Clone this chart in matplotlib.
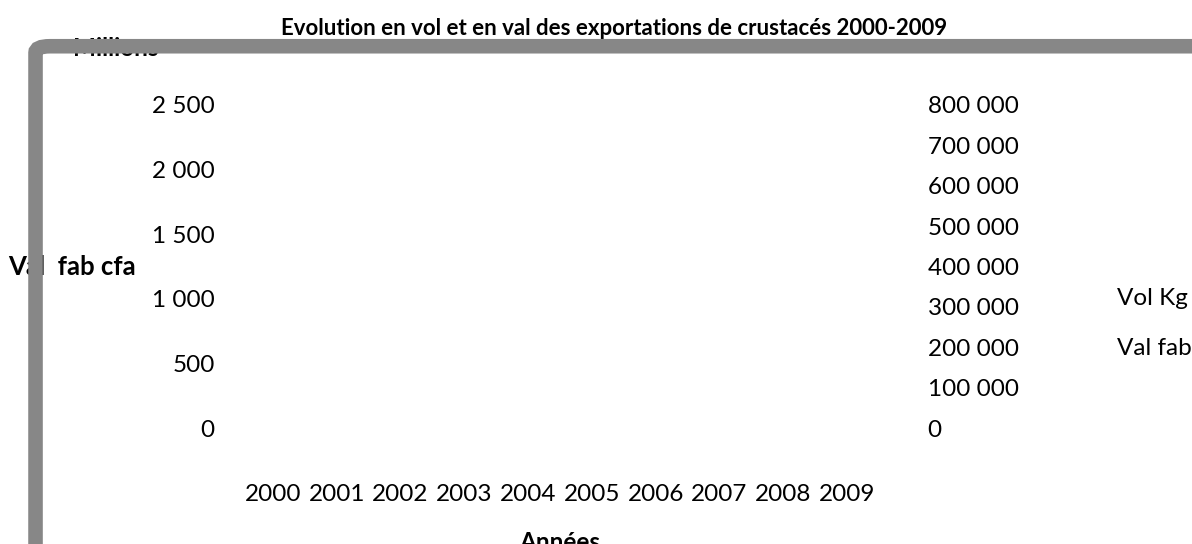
import numpy as np
import matplotlib
matplotlib.use("Agg")
import matplotlib.pyplot as plt
from matplotlib.patches import FancyBboxPatch
from matplotlib.ticker import FuncFormatter

plt.rcParams['font.family'] = ['Lato', 'DejaVu Sans']

years = ['2000', '2001', '2002', '2003', '2004', '2005', '2006', '2007', '2008', '2009']
# no series values are visible in the source chart
vol_kg = [np.nan, np.nan, np.nan, np.nan, np.nan, np.nan, np.nan, np.nan, np.nan, np.nan]
val_fab = [np.nan, np.nan, np.nan, np.nan, np.nan, np.nan, np.nan, np.nan, np.nan, np.nan]
left_ticks = [0, 500, 1000, 1500, 2000, 2500]
right_ticks = [0, 100000, 200000, 300000, 400000, 500000, 600000, 700000, 800000]


def spaced(v, pos=None):
    return '{:,.0f}'.format(v).replace(',', ' ')


fig = plt.figure(figsize=(11.92, 5.44), dpi=100)
ax = fig.add_axes([0.2022, 0.2132, 0.5352, 0.5938])
ax2 = ax.twinx()

x = np.arange(len(years))
ax.plot(x, val_fab, label='Val fab')
ax2.plot(x, vol_kg, label='Vol Kg')

ax.set_xlim(-0.5, len(years) - 0.5)
ax.set_ylim(0, 2500)
ax2.set_ylim(0, 800000)
ax.set_xticks(x)
ax.set_xticklabels(years)
ax.set_yticks(left_ticks)
ax2.set_yticks(right_ticks)
ax.yaxis.set_major_formatter(FuncFormatter(spaced))
ax2.yaxis.set_major_formatter(FuncFormatter(spaced))

for a in (ax, ax2):
    for s in a.spines.values():
        s.set_visible(False)
    a.patch.set_visible(False)
ax.tick_params(axis='y', length=0, pad=19, labelsize=17.5)
ax.tick_params(axis='x', length=0, pad=40, labelsize=17.5)
ax2.tick_params(axis='y', length=0, pad=35, labelsize=17.5)

ax.set_xlabel('Années', fontsize=17.5, fontweight='bold', labelpad=19)
ax.set_ylabel('Val  fab cfa', fontsize=18.5, fontweight='bold', rotation=0,
              ha='left', va='center')
ax.yaxis.set_label_coords(-0.365, 0.5)

fig.text(0.515, 0.948, 'Evolution en vol et en val des exportations de crustacés 2000-2009',
         ha='center', va='center', fontsize=16, fontweight='bold')
fig.text(0.061, 0.910, 'Millions', ha='left', va='center', fontsize=17.5,
         fontweight='bold', zorder=1)

fig.text(0.937, 0.452, 'Vol Kg', ha='left', va='center', fontsize=17.5)
fig.text(0.937, 0.360, 'Val fab cfa', ha='left', va='center', fontsize=17.5)

frame = FancyBboxPatch((0.0298, -0.2), 1.2, 1.115, transform=fig.transFigure,
                       boxstyle='round,pad=0,rounding_size=0.012',
                       facecolor='none', edgecolor='#878787', linewidth=10.5,
                       zorder=5, clip_on=False)
fig.patches.append(frame)

fig.savefig('out.png', dpi=100)
